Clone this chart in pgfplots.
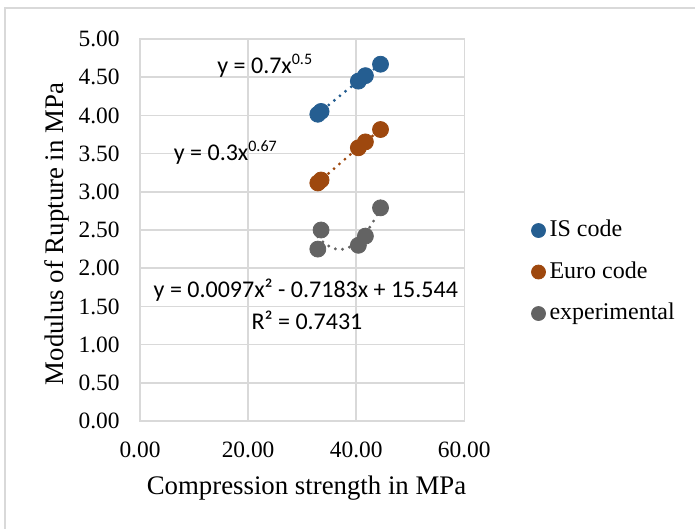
\documentclass[border=0pt]{standalone}
\usepackage{pgfplots}
\pgfplotsset{compat=1.18}
\usepackage{fontspec}
\setmainfont{Liberation Serif}
\newfontfamily\calfont{Carlito}
\definecolor{isblue}{HTML}{255E91}
\definecolor{euroor}{HTML}{9E480E}
\definecolor{expgray}{HTML}{636363}
\definecolor{gridgray}{HTML}{D9D9D9}
\pgfplotstableread{
x y
32.9 4.015
33.5 4.052
40.4 4.449
41.7 4.520
44.5 4.670
}\isdata
\pgfplotstableread{
x y
32.9 3.116
33.5 3.154
40.4 3.576
41.7 3.653
44.5 3.815
}\eurodata
\pgfplotstableread{
x y
32.9 2.25
33.5 2.50
40.4 2.30
41.7 2.42
44.5 2.79
}\expdata
\begin{document}
\begin{tikzpicture}
\path[use as bounding box] (0,0) rectangle (347.5pt,264.5pt);
\draw[line width=0.75pt, color=gridgray] (2.5pt,0) -- (2.5pt,260.5pt) -- (347.5pt,260.5pt);
\begin{axis}[
  at={(70pt,54pt)}, anchor=south west,
  scale only axis, width=162.15pt, height=191pt,
  xmin=0, xmax=60, ymin=0, ymax=5,
  xtick={0,20,40,60},
  ytick={0,0.5,1,1.5,2,2.5,3,3.5,4,4.5,5},
  major tick length=0pt,
  grid=major,
  grid style={gridgray, line width=0.75pt},
  axis line style={gridgray, line width=0.75pt},
  /pgf/number format/.cd, fixed, fixed zerofill, precision=2, assume math mode=true,
  /pgfplots/.cd,
  tick label style={font=\fontsize{11.7}{14}\selectfont},
  yticklabel style={xshift=-6.7pt},
  xticklabel style={yshift=-6.7pt},
  legend style={at={(1.206,0.39)}, anchor=west, draw=none, fill=none,
    inner sep=0pt, row sep=9.75pt,
    font=\fontsize{12}{14}\selectfont,
    nodes={inner xsep=2pt, inner ysep=0pt, text height=8.5pt, text depth=2.5pt}},
  legend cell align=left,
  legend image post style={mark size=3.5pt},
  clip=false,
]
% trendlines
\addplot[isblue, line width=1.6pt, line cap=round, dash pattern=on 0pt off 3.6pt, forget plot]
  coordinates {(32.9,4.015) (35,4.141) (37,4.258) (39,4.371) (41,4.482) (43,4.590) (44.5,4.670)};
\addplot[euroor, line width=1.6pt, line cap=round, dash pattern=on 0pt off 3.6pt, forget plot]
  coordinates {(32.9,3.116) (35,3.248) (37,3.371) (39,3.493) (41,3.611) (43,3.729) (44.5,3.815)};
\addplot[expgray, line width=1.6pt, line cap=round, dash pattern=on 0pt off 3.6pt, smooth, forget plot]
  coordinates {(32.9,2.411) (33.5,2.367) (34,2.335) (35,2.286) (36,2.256) (37,2.246) (38,2.255) (39,2.284) (40,2.332) (41,2.399) (42,2.486) (43,2.592) (44,2.718) (44.5,2.788)};
% data
\addplot[only marks, mark=*, mark size=4pt, color=isblue] table {\isdata};
\addlegendentry{IS code}
\addplot[only marks, mark=*, mark size=4pt, color=euroor] table {\eurodata};
\addlegendentry{Euro code}
\addplot[only marks, mark=*, mark size=4pt, color=expgray] table {\expdata};
\addlegendentry{experimental}
% trendline labels
\node[font=\calfont\fontsize{12}{14}\selectfont, anchor=base] at (axis cs:23.18,4.551) {y = 0.7x\textsuperscript{0.5}};
\node[font=\calfont\fontsize{12}{14}\selectfont, anchor=base] at (axis cs:15.88,3.416) {y = 0.3x\textsuperscript{0.67}};
\node[font=\calfont\fontsize{12}{14}\selectfont, anchor=base] at (axis cs:30.68,1.619) {y = 0.0097x² - 0.7183x + 15.544};
\node[font=\calfont\fontsize{12}{14}\selectfont, anchor=base] at (axis cs:30.9,1.200) {R² = 0.7431};
\end{axis}
\node[font=\fontsize{13.4}{16}\selectfont, anchor=base] at (153.25pt,17pt) {Compression strength in MPa};
\node[font=\fontsize{13.4}{16}\selectfont, anchor=base, rotate=90] at (31.5pt,147.5pt) {Modulus of Rupture in MPa};
\end{tikzpicture}
\end{document}
